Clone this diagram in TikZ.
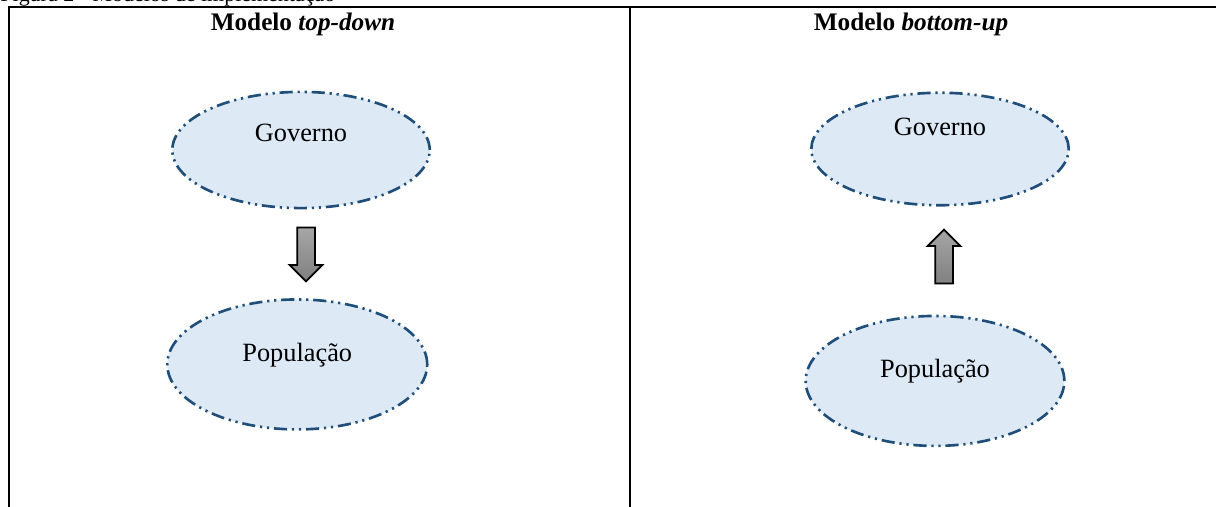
\documentclass[tikz,border=0pt]{standalone}
\usepackage{fontspec}
\setmainfont{Liberation Serif}
\usetikzlibrary{positioning, shapes.geometric, shapes.arrows}
\definecolor{elliblue}{RGB}{31,78,121}
\definecolor{ellifill}{RGB}{221,233,245}
\definecolor{arrowgray}{RGB}{128,128,128}

\begin{document}
\begin{tikzpicture}[x=0.016cm, y=-0.016cm, node distance=1.4cm,
  every node/.style={align=center, font=\fontsize{12}{14}\selectfont},
  model/.style={ellipse, draw=elliblue, fill=ellifill, line width=1.2pt,
    dash pattern=on 6pt off 2.2pt on 1pt off 2.2pt on 1pt off 2.2pt,
    minimum width=4.12cm, minimum height=1.86cm, text height=9pt, inner sep=0pt},
  blockarrow/.style={single arrow, draw=black, line width=0.8pt,
    top color=arrowgray!70, bottom color=arrowgray, minimum width=0.5cm,
    minimum height=0.864cm, single arrow head extend=0.12cm, inner sep=0.128cm},
  head/.style={font=\bfseries\fontsize{11.5}{13}\selectfont, anchor=base},
  rule/.style={line width=0.8pt}]
  \useasboundingbox (0,0) rectangle (1216,507);
  \clip (0,0) rectangle (1216,507);

  % caption, cut at the top
  \node[anchor=base west, inner sep=0pt, font=\fontsize{10}{12}\selectfont]
    (caption) at (0,1.5) {Figura 2 - Modelos de implementação};

  % table frame
  \draw[rule] (9,507) -- (9,7) -- (1216,7);
  \draw[rule] (630,7) -- (630,507);

  \node[head] (headTD) at (303,31) {Modelo \textit{top-down}};
  \node[head] (headBU) at (911,31) {Modelo \textit{bottom-up}};

  % top-down
  \node[model, text depth=17pt] (govTD) at (301,150) {Governo};
  \node[model, text depth=12pt, minimum width=4.16cm, minimum height=2.08cm,
    below=1.42cm of govTD, xshift=-0.06cm] (popTD) {População};
  \node[blockarrow, shape border rotate=270] (descTD) at (306,250) {};

  % bottom-up
  \node[model, text depth=21pt, minimum height=1.8cm] (govBU) at (940,149) {Governo};
  \node[model, text depth=12pt, minimum width=4.14cm, minimum height=2.08cm,
    below=1.73cm of govBU, xshift=-0.08cm] (popBU) {População};
  \node[blockarrow, shape border rotate=90] (ascBU) at (944,261) {};
\end{tikzpicture}
\end{document}
